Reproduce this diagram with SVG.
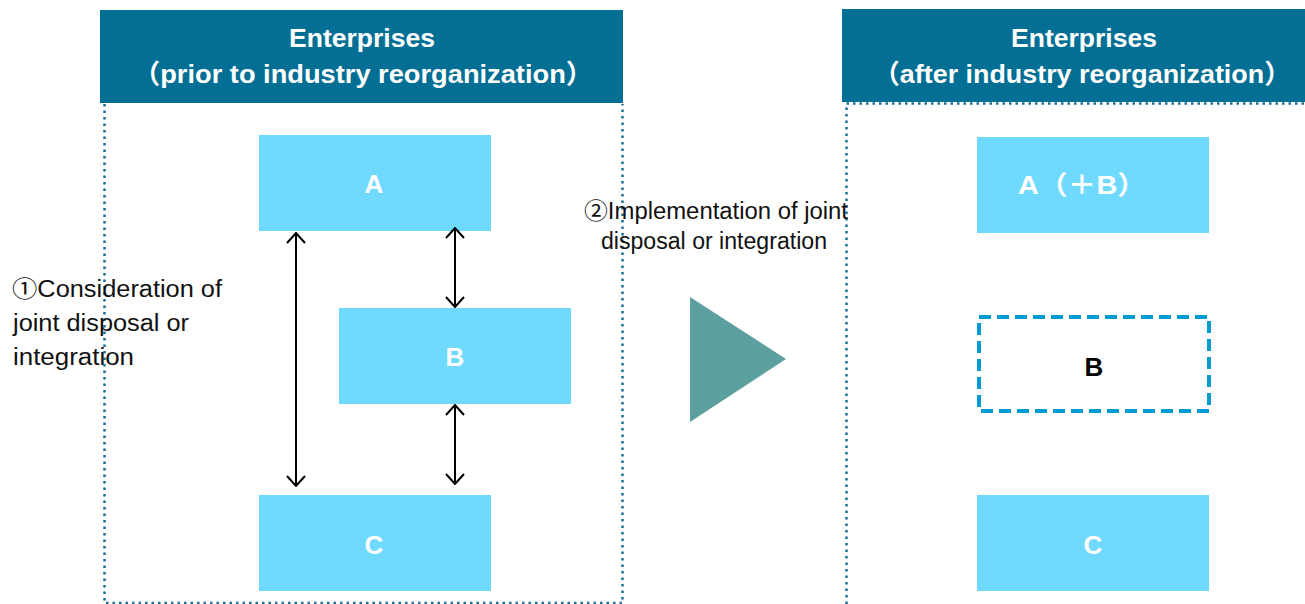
<svg xmlns="http://www.w3.org/2000/svg" width="1305" height="604" viewBox="0 0 1305 604">
<style>
.hdr{fill:#046f94}
.hdrt{font-family:"Liberation Sans","Noto Sans CJK JP",Arial,sans-serif;font-weight:bold;font-size:26.5px;fill:#fff;text-anchor:middle}
.box{fill:#6fd9fe}
.boxt{font-family:"Liberation Sans","Noto Sans CJK JP",Arial,sans-serif;font-weight:bold;font-size:26px;fill:#fff;text-anchor:middle}
.dot{fill:none;stroke:#1a6f94;stroke-width:2.5;stroke-dasharray:2.5 4}
.lbl{font-family:"Liberation Sans","Noto Sans CJK JP",Arial,sans-serif;font-size:23px;fill:#111}
.conn{stroke:#000;stroke-width:2;fill:none;marker-start:url(#ah);marker-end:url(#ah)}
</style>
<defs>
<marker id="ah" viewBox="0 0 12 20" refX="11" refY="10" markerWidth="12" markerHeight="20" markerUnits="userSpaceOnUse" orient="auto-start-reverse">
<path d="M1,1 L11,10 L1,19" fill="none" stroke="#000" stroke-width="2"/>
</marker>
</defs>
<rect width="1305" height="604" fill="#fff"/>

<g id="panel-before">
<path class="dot" d="M104.5,104 V603 H622.5 V104"/>
<rect class="hdr" x="100" y="10" width="523" height="93"/>
<text class="hdrt" x="362" y="47">Enterprises</text>
<text class="hdrt" x="363" y="83" textLength="460" lengthAdjust="spacingAndGlyphs">（prior to industry reorganization）</text>
</g>

<g id="panel-after">
<path class="dot" d="M846.5,604 V103.5 H1305"/>
<rect class="hdr" x="842" y="9" width="463" height="93"/>
<text class="hdrt" x="1084" y="47">Enterprises</text>
<text class="hdrt" x="1082" y="83" textLength="418" lengthAdjust="spacingAndGlyphs">（after industry reorganization）</text>
</g>

<g id="node-A">
<rect class="box" x="259" y="135" width="232" height="96"/>
<text class="boxt" x="374" y="193">A</text>
</g>
<g id="node-B">
<rect class="box" x="339" y="308" width="232" height="96"/>
<text class="boxt" x="455" y="366">B</text>
</g>
<g id="node-C">
<rect class="box" x="259" y="495" width="232" height="96"/>
<text class="boxt" x="374" y="554">C</text>
</g>

<g id="connectors">
<line class="conn" x1="296" y1="233" x2="296" y2="486"/>
<line class="conn" x1="455" y1="228" x2="455" y2="307"/>
<line class="conn" x1="455" y1="405" x2="455" y2="484"/>
</g>

<g id="label-consideration">
<text class="lbl" x="12" y="297" textLength="210" lengthAdjust="spacingAndGlyphs">①Consideration of</text>
<text class="lbl" x="13" y="331" textLength="176" lengthAdjust="spacingAndGlyphs">joint disposal or</text>
<text class="lbl" x="13" y="365" textLength="121" lengthAdjust="spacingAndGlyphs">integration</text>
</g>

<g id="label-implementation">
<text class="lbl" x="584" y="219" textLength="264" lengthAdjust="spacingAndGlyphs">②Implementation of joint</text>
<text class="lbl" x="601" y="249" textLength="226" lengthAdjust="spacingAndGlyphs">disposal or integration</text>
</g>

<g id="transition-arrow">
<polygon points="690,297 690,422 786,359" fill="#5ba09e"/>
</g>

<g id="node-A-plus-B">
<rect class="box" x="977" y="137" width="232" height="96"/>
<text class="boxt" x="1082" y="194" textLength="128" lengthAdjust="spacingAndGlyphs">A（＋B）</text>
</g>
<g id="node-B-after">
<rect x="979" y="317" width="230" height="94" fill="none" stroke="#049bd2" stroke-width="4" stroke-dasharray="12 6"/>
<text x="1094" y="376" font-family="Liberation Sans,Arial,sans-serif" font-weight="bold" font-size="26" fill="#000" text-anchor="middle">B</text>
</g>
<g id="node-C-after">
<rect class="box" x="977" y="495" width="232" height="96"/>
<text class="boxt" x="1093" y="554">C</text>
</g>
</svg>
